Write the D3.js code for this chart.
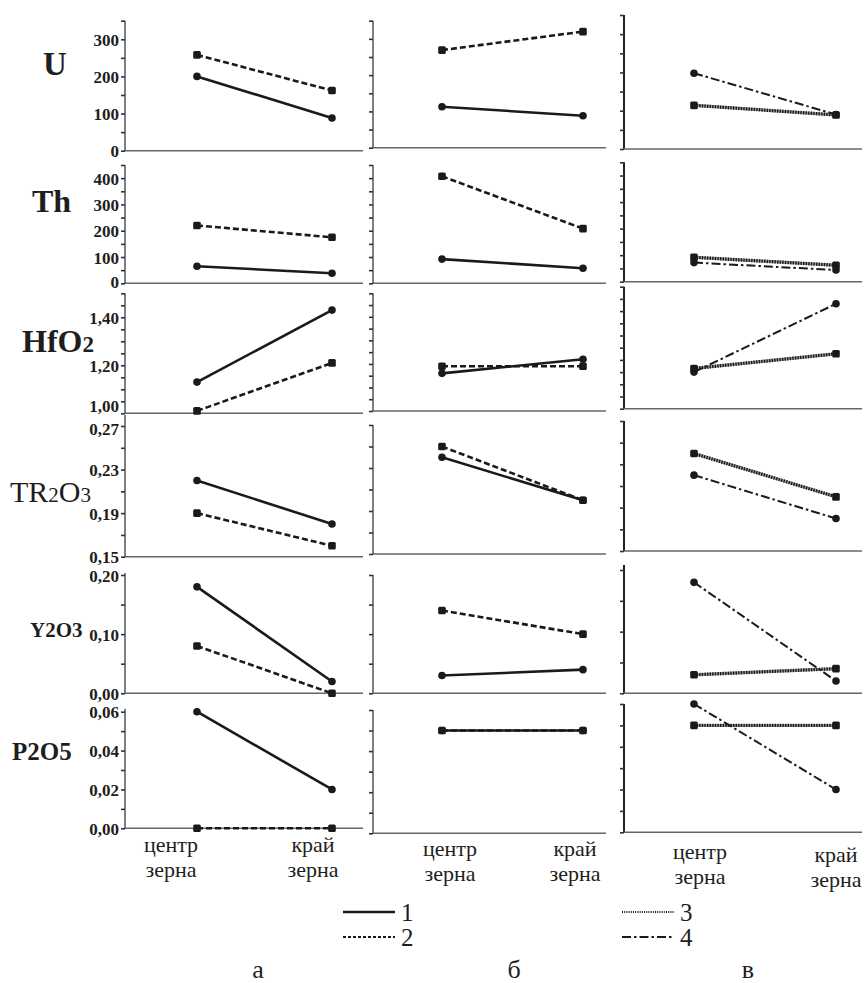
<!DOCTYPE html>
<html>
<head>
<meta charset="utf-8">
<script src="https://cdn.jsdelivr.net/npm/d3@7"></script>
<style>
body { margin: 0; background: #fff; }
svg { display: block; }
text { font-family: "Liberation Serif", "Times New Roman", serif; fill: #1e1e1e; }
</style>
</head>
<body>
<div id="chart"></div>
<script>
// rows (elements) and the two points on each panel
var rowNames = ["U", "Th", "HfO2", "TR2O3", "Y2O3", "P2O5"];
var positions = ["центр", "край"];
var posLabel2 = "зерна";
var colLetters = ["а", "б", "в"];

var yDomains = [[0, 350], [0, 450], [1.0, 1.5], [0.15, 0.27], [0, 0.20], [0, 0.06]];
var tickSteps = [50, 50, 0.05, 0.02, 0.05, 0.01];
var tickLabels = [
	[0, 100, 200, 300],
	[0, 100, 200, 300, 400],
	[1.0, 1.2, 1.4],
	[0.15, 0.19, 0.23, 0.27],
	[0, 0.10, 0.20],
	[0, 0.02, 0.04, 0.06]
];

// column а : series 1 and 2, one [center, edge] pair per row
var a1 = [[200, 88], [65, 38], [1.13, 1.43], [0.22, 0.18], [0.18, 0.02], [0.06, 0.02]];
var a2 = [[258, 162], [220, 175], [1.01, 1.21], [0.19, 0.16], [0.08, 0.00], [0.00, 0.00]];
// column б : series 1 and 2
var b1 = [[113, 88], [92, 57], [1.16, 1.22], [0.24, 0.20], [0.03, 0.04], [0.05, 0.05]];
var b2 = [[269, 320], [407, 208], [1.19, 1.19], [0.25, 0.20], [0.14, 0.10], [0.05, 0.05]];
// column в : series 3 and 4
var c3 = [[114, 89], [92, 62], [1.165, 1.225], [0.24, 0.20], [0.03, 0.04], [0.05, 0.05]];
var c4 = [[198, 90], [72, 44], [1.15, 1.43], [0.22, 0.18], [0.18, 0.02], [0.06, 0.02]];

var columns = [
	[{id: 2, values: a2}, {id: 1, values: a1}],
	[{id: 2, values: b2}, {id: 1, values: b1}],
	[{id: 3, values: c3}, {id: 4, values: c4}]
];

var w = 867;
var h = 983;

// layout
var colX = [
	{axis: 125, end: 363, c: 197, e: 332},
	{axis: 373, end: 606, c: 442, e: 583},
	{axis: 624, end: 862, c: 694, e: 836}
];
var panelY = [
	[[20.7, 150.7], [20.7, 147.7], [15, 149]],
	[[165, 283.3], [165, 283.3], [162.3, 281.7]],
	[[293.3, 413.3], [293.3, 411], [286.7, 408.7]],
	[[426, 556.7], [425, 554], [421, 551]],
	[[575, 693.3], [575, 693.3], [570, 693.3]],
	[[711.7, 828.3], [710, 833.3], [704, 832.3]]
];
var axisOver = [[0, 0, 0], [0, 0, 0], [0, 0, 0], [11, 0, 0], [2, 0, 5], [3, 0, 0]];
// nudge of the lowest / highest tick label per row (keeps 1,00 off 0,27)
var lowLabelShift = [0, -2, -8, 0, 0, 0];
var topLabelShift = [0, 0, 0, 2, 0, 0];

var styles = {
	1: {dash: null, width: 2.6, marker: "circle"},
	2: {dash: "6,3", width: 2.6, marker: "square"},
	3: {dash: "1.4,1.2", width: 3.4, marker: "square"},
	4: {dash: "9,3,2.5,3", width: 2, marker: "circle"}
};

var ru = d3.formatLocale({decimal: ",", thousands: " ", grouping: [3], currency: ["", ""]});
var fmtDec = ru.format(".2f");
var fmtInt = ru.format("d");

var svg = d3.select("#chart")
	.append("svg")
	.attr("width", w)
	.attr("height", h);

rowNames.forEach(function (name, r) {
	for (var ci = 0; ci < 3; ci++) {
		var cx = colX[ci];
		var py = panelY[r][ci];
		var y = d3.scaleLinear().domain(yDomains[r]).range([py[1], py[0]]);
		var x = d3.scalePoint().domain(positions).range([cx.c, cx.e]);
		var g = svg.append("g");

		// axes lines
		g.append("line")
			.attr("x1", cx.axis).attr("x2", cx.axis)
			.attr("y1", py[0] - axisOver[r][ci]).attr("y2", py[1])
			.attr("stroke", ci == 2 ? "#222" : "#555")
			.attr("stroke-width", ci == 2 ? 2 : 1.5);
		g.append("line")
			.attr("x1", cx.axis - 1).attr("x2", cx.end)
			.attr("y1", py[1]).attr("y2", py[1])
			.attr("stroke", "#666")
			.attr("stroke-width", 1.6);

		var step = tickSteps[r];
		var ticks = d3.range(yDomains[r][0], yDomains[r][1] + step / 2, step);
		var labels = tickLabels[r];
		var axis = d3.axisLeft(y)
			.tickValues(ticks)
			.tickSize(4)
			.tickSizeOuter(0)
			.tickPadding(2)
			.tickFormat(function (d) {
				if (ci != 0) return "";
				var hit = labels.some(function (l) { return Math.abs(l - d) < step / 10; });
				if (!hit) return "";
				return r < 2 ? fmtInt(d) : fmtDec(d);
			});
		var ag = g.append("g")
			.attr("transform", "translate(" + cx.axis + ",0)")
			.call(axis);
		ag.select(".domain").remove();
		ag.selectAll(".tick line").attr("stroke", "#333").attr("stroke-width", 1.6);
		var nT = ticks.length;
		ag.selectAll(".tick text")
			.attr("font-size", "17px")
			.attr("font-weight", "bold")
			.attr("fill", "#1e1e1e")
			.attr("dy", function (d, i) {
				var s = 0;
				if (i == 0) s = lowLabelShift[r];
				if (i == nT - 1) s = topLabelShift[r];
				return s + 6;
			});

		// series
		columns[ci].forEach(function (s) {
			var st = styles[s.id];
			var pts = positions.map(function (p, i) { return {pos: p, v: s.values[r][i]}; });
			var line = d3.line()
				.x(function (d) { return x(d.pos); })
				.y(function (d) { return y(d.v); });
			if (s.id == 3) {
				g.append("path").datum(pts)
					.attr("d", line)
					.attr("fill", "none")
					.attr("stroke", "#9a9a9a")
					.attr("stroke-width", 3);
			}
			g.append("path").datum(pts)
				.attr("d", line)
				.attr("fill", "none")
				.attr("stroke", "#1a1a1a")
				.attr("stroke-width", st.width)
				.attr("stroke-dasharray", st.dash);
			if (st.marker == "circle") {
				g.selectAll(null).data(pts).enter().append("circle")
					.attr("cx", function (d) { return x(d.pos); })
					.attr("cy", function (d) { return y(d.v); })
					.attr("r", 3.8)
					.attr("fill", "#1a1a1a");
			} else {
				g.selectAll(null).data(pts).enter().append("rect")
					.attr("x", function (d) { return x(d.pos) - 3.8; })
					.attr("y", function (d) { return y(d.v) - 3.8; })
					.attr("width", 7.6)
					.attr("height", 7.6)
					.attr("rx", 1.5)
					.attr("fill", "#1a1a1a");
			}
		});
	}
});

// row names
var rowLabelPos = [
	{x: 43, y: 75, size: 33, bold: true, sub: 33},
	{x: 32, y: 212, size: 32, bold: true, sub: 32},
	{x: 22, y: 352, size: 32, bold: true, sub: 23},
	{x: 10, y: 502, size: 30, bold: false, sub: 21},
	{x: 30, y: 637, size: 21, bold: true, sub: 21},
	{x: 12, y: 760, size: 25, bold: true, sub: 25}
];
rowNames.forEach(function (name, r) {
	var p = rowLabelPos[r];
	var t = svg.append("text")
		.attr("x", p.x)
		.attr("y", p.y)
		.attr("font-size", p.size + "px")
		.attr("font-weight", p.bold ? "bold" : "normal");
	name.split(/(\d)/).filter(function (s) { return s.length; }).forEach(function (part) {
		t.append("tspan")
			.attr("font-size", /\d/.test(part) ? p.sub + "px" : null)
			.text(part);
	});
});

// x labels under each column
var xLabelY = [[852, 877, 852, 877], [856, 881, 856, 881], [859, 884, 862, 887]];
var xLabelX = [[171, 313], [450, 575], [700, 836]];
colX.forEach(function (cx, ci) {
	positions.forEach(function (p, i) {
		svg.append("text")
			.attr("x", xLabelX[ci][i]).attr("y", xLabelY[ci][i * 2])
			.attr("text-anchor", "middle")
			.attr("font-size", "22px")
			.text(p);
		svg.append("text")
			.attr("x", xLabelX[ci][i]).attr("y", xLabelY[ci][i * 2 + 1])
			.attr("text-anchor", "middle")
			.attr("font-size", "22px")
			.text(posLabel2);
	});
});

// legend
var legendItems = [
	{id: 1, x: 343, y: 912},
	{id: 2, x: 343, y: 937},
	{id: 3, x: 622, y: 912},
	{id: 4, x: 622, y: 937}
];
legendItems.forEach(function (d) {
	var st = styles[d.id];
	svg.append("line")
		.attr("x1", d.x).attr("x2", d.x + 52)
		.attr("y1", d.y).attr("y2", d.y)
		.attr("stroke", "#1a1a1a")
		.attr("stroke-width", d.id == 1 ? 2.4 : 1.8)
		.attr("stroke-dasharray", d.id == 2 ? "3,2" : d.id == 3 ? "1,1.2" : st.dash);
	svg.append("text")
		.attr("x", d.x + 58).attr("y", d.y + 9)
		.attr("font-size", "25px")
		.text(d.id);
});

// panel letters
var letterX = [258, 514, 748];
colLetters.forEach(function (l, i) {
	svg.append("text")
		.attr("x", letterX[i]).attr("y", 978)
		.attr("text-anchor", "middle")
		.attr("font-size", "26px")
		.text(l);
});
</script>
</body>
</html>
